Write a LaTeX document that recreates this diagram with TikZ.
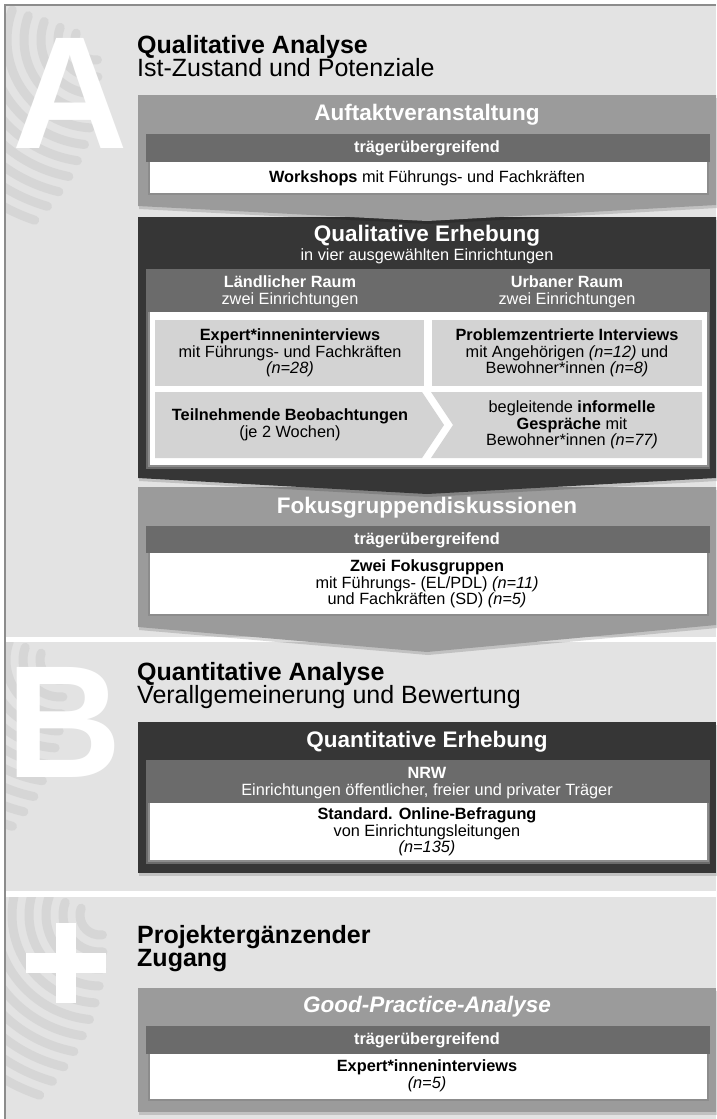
\documentclass[tikz,border=0pt]{standalone}
\usepackage{fontspec}
\setmainfont{Liberation Sans}
\usetikzlibrary{positioning}

\definecolor{secbg}{HTML}{E3E3E3}
\definecolor{printgray}{HTML}{D6D6D6}
\definecolor{midgray}{HTML}{9B9B9B}
\definecolor{bargray}{HTML}{6B6B6B}
\definecolor{boxdark}{HTML}{363636}
\definecolor{cellgray}{HTML}{D3D3D3}
\definecolor{framegray}{HTML}{8C8C8C}

\begin{document}
\begin{tikzpicture}[x=1pt,y=-1pt,
  sectitle/.style={anchor=base west,inner sep=0pt,font=\fontsize{25}{23}\selectfont},
  boxhead/.style={text=white,inner sep=0pt,font=\bfseries\fontsize{22.5}{24}\selectfont},
  subhead/.style={text=white,align=center,inner sep=0pt,font=\fontsize{16.3}{16.5}\selectfont},
  bartext/.style={text=white,inner sep=0pt,font=\bfseries\fontsize{16.3}{16.5}\selectfont},
  celltext/.style={align=center,inner sep=0pt,font=\fontsize{16.3}{16.5}\selectfont},
  bigletter/.style={text=white,inner sep=0pt,anchor=base west,font=\bfseries\fontsize{160}{160}\selectfont},
  boxshadow/.style={fill=black,opacity=0.15,shift={(1,3)}},
  whiteedge/.style={framegray,line width=2pt}]

  \useasboundingbox (0,0) rectangle (716,1119);
  \fill[white] (0,0) rectangle (716,1119);

  % sections
  \fill[secbg] (5,5) rectangle (716,637);
  \fill[secbg] (5,642) rectangle (716,891);
  \fill[secbg] (5,897) rectangle (716,1119);

  % fingerprints
  \foreach \cx/\cy/\ya/\yb in {95/40/5/637, 60/660/642/891, 100/915/897/1119}{
    \begin{scope}
      \clip (5,\ya) rectangle (140,\yb);
      \foreach \r in {20,37,...,190}
        \draw[printgray,line width=9pt,line cap=round]
          ({\cx+\r*cos(200)},{\cy+\r*sin(200)}) arc[start angle=200,end angle={80+0.15*\r},radius=\r];
    \end{scope}
  }

  \node[bigletter] (letA) at (12,148) {A};
  \node[bigletter] (letB) at (6,777) {B};
  \fill[white] (56,923) rectangle (76,1003);
  \fill[white] (26,953) rectangle (106,973);

  \node[sectitle] (titA) at (137,53) {\textbf{Qualitative Analyse}};
  \node[sectitle] (subA) at (137,76) {Ist-Zustand und Potenziale};
  \node[sectitle] (titB) at (137,680) {\textbf{Quantitative Analyse}};
  \node[sectitle] (subB) at (137,703) {Verallgemeinerung und Bewertung};
  \node[sectitle] (titC) at (137,943) {\textbf{Projektergänzender}};
  \node[sectitle] (subC) at (137,966) {\textbf{Zugang}};

  % Fokusgruppen
  \path[boxshadow] (138,487) -- (716,487) -- (716,625) -- (427,652) -- (138,627) -- cycle;
  \fill[midgray] (138,487) -- (716,487) -- (716,625) -- (427,652) -- (138,627) -- cycle;
  \fill[bargray] (146,526) rectangle (710,553);
  \fill[white] (148,553) rectangle (708,615);
  \draw[whiteedge] (149,553) -- (149,615) -- (708,615) -- (708,553);
  \node[boxhead] (fokus) at (427,508) {Fokusgruppendiskussionen};
  \node[bartext] (traeger2) at (427,540) {trägerübergreifend};
  \node[celltext] (fokgr) at (427,584) {\textbf{Zwei Fokusgruppen}\\mit Führungs- (EL/PDL) \textit{(n=11)}\\und Fachkräften (SD) \textit{(n=5)}};

  % Qualitative Erhebung
  \path[boxshadow] (138,217) -- (716,217) -- (716,478) -- (427,494) -- (138,478) -- cycle;
  \fill[boxdark] (138,217) -- (716,217) -- (716,478) -- (427,494) -- (138,478) -- cycle;
  \node[boxhead] (qualerh) at (427,236) {Qualitative Erhebung};
  \node[subhead] (qualsub) at (427,256) {in vier ausgewählten Einrichtungen};
  \fill[bargray] (146,269) rectangle (710,469);
  \fill[white] (148,312) rectangle (708,466);
  \draw[whiteedge] (149,312) -- (149,466) -- (708,466) -- (708,312);
  \node[subhead] (laendlich) at (290,292) {\textbf{Ländlicher Raum}\\zwei Einrichtungen};
  \node[subhead] (urban) at (567,292) {\textbf{Urbaner Raum}\\zwei Einrichtungen};
  \fill[cellgray] (155,320) rectangle (424,386);
  \fill[cellgray] (432,320) rectangle (702,386);
  \fill[cellgray] (155,392) -- (422,392) -- (444,425) -- (422,458) -- (155,458) -- cycle;
  \fill[cellgray] (431,392) -- (702,392) -- (702,458) -- (431,458) -- (453,425) -- cycle;
  \node[celltext] (expint) at (290,353) {\textbf{Expert*inneninterviews}\\mit Führungs- und Fachkräften\\\textit{(n=28)}};
  \node[celltext] (probint) at (567,353) {\textbf{Problemzentrierte Interviews}\\mit Angehörigen \textit{(n=12)} und\\Bewohner*innen \textit{(n=8)}};
  \node[celltext] (beob) at (290,425) {\textbf{Teilnehmende Beobachtungen}\\(je 2 Wochen)};
  \node[celltext] (gespr) at (572,425) {begleitende \textbf{informelle}\\\textbf{Gespräche} mit\\Bewohner*innen \textit{(n=77)}};

  % Auftaktveranstaltung
  \path[boxshadow] (138,95) -- (716,95) -- (716,205) -- (427,221) -- (138,206) -- cycle;
  \fill[midgray] (138,95) -- (716,95) -- (716,205) -- (427,221) -- (138,206) -- cycle;
  \fill[bargray] (146,134) rectangle (710,162);
  \fill[white] (148,162) rectangle (708,194);
  \draw[whiteedge] (149,162) -- (149,194) -- (708,194) -- (708,162);
  \node[boxhead] (auftakt) at (427,115) {Auftaktveranstaltung};
  \node[bartext] (traeger1) at (427,148) {trägerübergreifend};
  \node[celltext] (workshops) at (427,178) {\textbf{Workshops} mit Führungs- und Fachkräften};

  % Quantitative Erhebung
  \path[boxshadow] (138,722) rectangle (716,873);
  \fill[boxdark] (138,722) rectangle (716,873);
  \fill[bargray] (146,760) rectangle (710,864);
  \fill[white] (148,803) rectangle (708,861);
  \draw[whiteedge] (149,803) -- (149,861) -- (708,861) -- (708,803);
  \node[boxhead] (quanterh) at (427,742) {Quantitative Erhebung};
  \node[subhead] (nrw) at (427,783) {\textbf{NRW}\\Einrichtungen öffentlicher, freier und privater Träger};
  \node[celltext] (online) at (427,832) {\textbf{Standard. Online-Befragung}\\von Einrichtungsleitungen\\\textit{(n=135)}};

  % Good-Practice
  \path[boxshadow] (138,988) rectangle (716,1112);
  \fill[midgray] (138,988) rectangle (716,1112);
  \fill[bargray] (146,1026) rectangle (710,1054);
  \fill[white] (148,1054) rectangle (708,1100);
  \draw[whiteedge] (149,1054) -- (149,1100) -- (708,1100) -- (708,1054);
  \node[boxhead,font=\bfseries\itshape\fontsize{22.5}{24}\selectfont] (goodpr) at (427,1007) {Good-Practice-Analyse};
  \node[bartext] (traeger3) at (427,1040) {trägerübergreifend};
  \node[celltext] (expint2) at (427,1076) {\textbf{Expert*inneninterviews}\\\textit{(n=5)}};

  \draw[framegray,line width=1.5pt] (5,1119) -- (5,5) -- (716,5);
\end{tikzpicture}
\end{document}
